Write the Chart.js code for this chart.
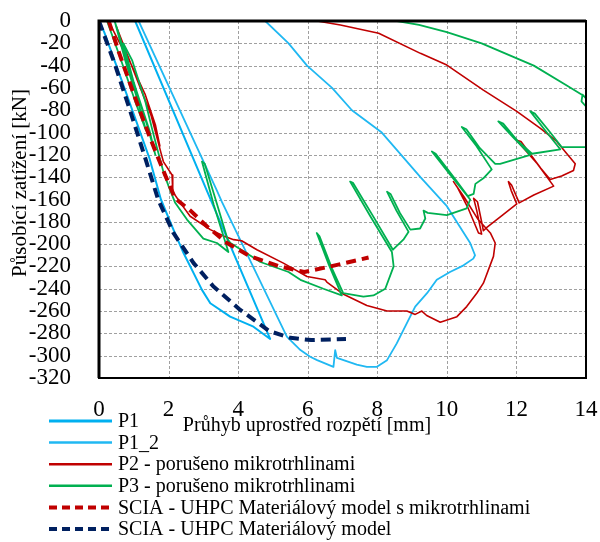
<!DOCTYPE html>
<html>
<head>
<meta charset="utf-8">
<script src="https://cdn.jsdelivr.net/npm/chart.js@4.4.1/dist/chart.umd.min.js"></script>
<style>
  body { margin: 0; background: #fff; }
  #wrap { width: 600px; height: 542px; }
</style>
</head>
<body>
<div id="wrap"><canvas id="beamChart"></canvas></div>
<script>
// DATA  [deflection mm, force kN]
const p1 = [[0,0],[0.15,-10],[0.5,-40],[0.97,-81],[1.45,-123],[1.78,-160],[2.14,-187],[2.43,-208],[2.72,-226],
  [2.96,-241],[3.2,-253],[3.77,-265],[4.44,-274],[4.92,-285],[3.1,-152],[1.04,0]];

const p1b = [[1.14,0],[3.39,-152],[3.53,-162],[5.4,-283],[5.79,-295],[6.07,-301],[6.27,-304],[6.74,-310],[6.79,-295],
  [6.84,-302],[7.41,-308],[7.7,-310],[7.99,-310],[8.28,-304],[8.56,-289],[8.75,-277],[9.09,-256],[9.43,-244],
  [9.71,-232],[10.09,-225],[10.48,-219],[10.76,-213],[10.81,-210],[10.67,-199],[10.0,-166],[9.24,-140],
  [8.13,-100],[7.27,-80],[6.7,-60],[5.98,-40],[5.45,-20],[4.78,0]];

const p2 = [[0.27,0],[0.6,-20],[0.85,-34],[1.33,-66],[1.62,-93],[1.75,-112],[1.5,-85],[1.0,-45],[0.5,-5],
  [1.0,-45],[1.5,-85],[1.78,-118],[1.85,-126],[2.1,-138],[2.12,-153],[2.34,-163],[2.62,-175],[3.2,-187],
  [3.6,-193],[3.87,-196],[4.1,-197],[4.54,-205],[5.3,-217],[5.98,-229],[6.5,-232],[6.55,-234],[7.03,-245],
  [7.7,-255],[8.28,-260],[8.85,-260],[9.09,-263],[9.28,-260],[9.42,-264],[9.81,-270],[10.29,-265],
  [10.57,-256],[10.86,-244],[11.05,-235],[11.34,-211],[11.39,-199],[11.25,-190],[10.9,-178],[10.5,-158],
  [10.19,-144],[10.3,-149],[10.6,-167],[10.91,-190],[11.0,-191],[10.86,-170],[10.77,-159],[10.88,-162],
  [11.0,-180],[11.05,-188],[11.15,-185],[11.6,-174],[12.01,-164],[11.85,-152],[11.77,-144],[11.86,-147],
  [12.08,-163],[12.5,-156],[13.07,-148],[12.6,-128],[12.01,-107],[12.13,-108],[12.7,-132],[12.97,-142],
  [13.3,-139],[13.64,-134],[13.69,-128],[13.45,-119],[13.16,-108],[12.68,-96],[12.01,-81],[11.05,-62],
  [10,-39.5],[9.24,-29],[8.04,-11],[6.94,-3.6],[6.27,0]];

const p3 = [[0.23,0],[0.61,-33],[1.04,-72],[1.35,-98],[1.1,-70],[0.75,-35],[0.45,0],[0.7,-25],[1.05,-60],
  [1.45,-98],[1.62,-120],[1.4,-95],[1.0,-55],[0.7,-20],[0.95,-35],[1.33,-72],[1.52,-96],[1.67,-114],
  [1.85,-135],[2.0,-148],[2.19,-163],[2.53,-178],[3.0,-195],[3.39,-199],[3.72,-207],
  [3.3,-165],[2.96,-126],[3.04,-128],[3.4,-165],[3.7,-196],
  [3.78,-199],[4.64,-216],[5.45,-225],[5.79,-232],[6.45,-240],[6.98,-246],
  [6.6,-218],[6.26,-190],[6.34,-193],[6.7,-222],[7.02,-244],
  [7.6,-247],[7.89,-246],[8.23,-240],[8.47,-220],[8.42,-207],
  [7.8,-175],[7.22,-144],[7.3,-145],[7.9,-176],[8.45,-205],
  [8.75,-196],[8.9,-189],
  [8.55,-170],[8.28,-153],[8.38,-155],[8.65,-172],[8.95,-187],
  [9.23,-186],[9.38,-177],[9.33,-170],[9.45,-172],[10.0,-174],[10.57,-168],[10.67,-160],
  [10.1,-138],[9.57,-117],[9.68,-119],[10.2,-140],[10.6,-157],
  [10.77,-155],[10.82,-146],[11.05,-141],[11.29,-133],
  [10.85,-112],[10.43,-95],[10.56,-97],[10.95,-114],[11.39,-128],
  [11.53,-128],[12.4,-120],
  [11.9,-104],[11.48,-90],[11.62,-92],[12.05,-108],[12.45,-119],
  [13.26,-115],
  [12.8,-97],[12.4,-81],[12.53,-83],[12.95,-99],[13.3,-113],
  [14.02,-113],[14.6,-110],[14.15,-82],[13.87,-72],[13.9,-66],[14.02,-70],[13.93,-67],[13.4,-57],
  [12.5,-40],[11.0,-20],[10.0,-10],[9.2,-3.5],[8.57,0]];

const sciaMicro = [[0.28,0],[0.56,-27],[1.04,-69],[1.47,-105],[1.9,-138],[2.19,-159],[2.63,-170],[3.1,-184],
  [3.68,-199],[4.35,-211],[5.2,-220],[5.9,-225],[6.65,-220],[7.75,-212]];

const scia = [[0,0],[0.47,-40],[0.9,-81],[1.33,-123],[1.7,-160],[2.14,-190],[2.72,-217],[3.29,-238],
  [4.06,-259],[4.9,-278],[5.5,-284],[6.1,-286],[7.1,-285]];

const xTicks = [0, 2, 4, 6, 8, 10, 12, 14];

const seriesNames = ["P1", "P1_2", "P2 - porušeno mikrotrhlinami", "P3 - porušeno mikrotrhlinami",
  "SCIA - UHPC Materiálový model s mikrotrhlinami", "SCIA - UHPC Materiálový model"];
const seriesData = [p1, p1b, p2, p3, sciaMicro, scia];
const seriesColors = ["#00B0F0", "#20B8F2", "#C00000", "#00B050", "#C00000", "#002060"];
const seriesWidths = [2, 1.8, 1.6, 1.8, 4, 4];
const seriesDash = [[], [], [], [], [10, 6], [10, 6]];

const xTitle = "Průhyb uprostřed rozpětí [mm]";
const yTitle = "Působící zatížení [kN]";
const FONT = "'Liberation Serif', 'Times New Roman', serif";

// frame, grid, titles and legend
const overlay = {
  id: "overlay",
  afterDatasetsDraw(chart) {
    const { ctx, chartArea: a, scales } = chart;
    // dashed grid, slipped underneath the lines already drawn
    ctx.save();
    ctx.globalCompositeOperation = "destination-over";
    ctx.strokeStyle = "#A0A0A0";
    ctx.lineWidth = 1;
    ctx.setLineDash([3, 2]);
    ctx.beginPath();
    xTicks.forEach(v => {
      const px = Math.round(scales.x.getPixelForValue(v)) + 0.5;
      ctx.moveTo(px, a.top);
      ctx.lineTo(px, a.bottom);
    });
    for (let v = scales.y.min; v <= scales.y.max; v += 20) {
      const py = Math.round(scales.y.getPixelForValue(v)) + 0.5;
      ctx.moveTo(a.left, py);
      ctx.lineTo(a.right, py);
    }
    ctx.stroke();
    ctx.restore();

    ctx.save();
    ctx.strokeStyle = "#000";
    ctx.lineWidth = 2;
    ctx.strokeRect(a.left, a.top, a.right - a.left, a.bottom - a.top);
    ctx.lineWidth = 3;
    ctx.beginPath();
    ctx.moveTo(a.right, a.top);
    ctx.lineTo(a.left, a.top);
    ctx.lineTo(a.left, a.bottom);
    ctx.stroke();
    ctx.restore();
  },
  afterDraw(chart) {
    const ctx = chart.ctx;
    ctx.save();
    ctx.fillStyle = "#000";
    ctx.font = "20px " + FONT;
    ctx.textAlign = "center";
    ctx.textBaseline = "middle";
    ctx.fillText(xTitle, 307, 426);

    ctx.font = "21px " + FONT;
    ctx.translate(20, 183);
    ctx.rotate(-Math.PI / 2);
    ctx.fillText(yTitle, 0, 0);
    ctx.restore();

    // legend, one entry per row
    ctx.save();
    ctx.font = "20px " + FONT;
    ctx.textAlign = "left";
    ctx.textBaseline = "middle";
    seriesNames.forEach((name, i) => {
      const y = 421 + i * 21.6;
      ctx.strokeStyle = seriesColors[i];
      ctx.lineWidth = i < 4 ? (i === 0 ? 3 : 2.5) : 4;
      ctx.setLineDash(seriesDash[i].length ? [8, 5] : []);
      ctx.beginPath();
      ctx.moveTo(49, y);
      ctx.lineTo(112, y);
      ctx.stroke();
      ctx.fillStyle = "#000";
      ctx.fillText(name, 118, y + 1);
    });
    ctx.restore();
  }
};

new Chart(document.getElementById("beamChart"), {
  type: "scatter",
  data: {
    datasets: seriesData.map((d, i) => ({
      label: seriesNames[i],
      data: d.map(p => ({ x: p[0], y: p[1] })),
      showLine: true,
      pointRadius: 0,
      borderColor: seriesColors[i],
      backgroundColor: seriesColors[i],
      borderWidth: seriesWidths[i],
      borderDash: seriesDash[i],
      borderJoinStyle: "round",
      tension: 0,
      order: 6 - i
    }))
  },
  options: {
    responsive: true,
    maintainAspectRatio: false,
    animation: false,
    layout: { padding: { left: 0, right: 14, top: 21, bottom: 0 } },
    plugins: {
      legend: { display: false },
      tooltip: { enabled: false }
    },
    scales: {
      x: {
        type: "linear",
        min: 0,
        max: 14,
        ticks: { stepSize: 2, autoSkip: false, maxRotation: 0, padding: 10, color: "#000", font: { family: FONT, size: 23 } },
        grid: { display: false },
        border: { display: false },
        afterFit(scale) {
          scale.height = 164;
          scale.paddingLeft = 0;
          scale.paddingRight = 0;
        }
      },
      y: {
        type: "linear",
        min: -320,
        max: 0,
        ticks: { stepSize: 20, autoSkip: false, padding: 20, color: "#000", font: { family: FONT, size: 23 } },
        grid: { display: false },
        border: { display: false },
        afterFit(scale) {
          scale.width = 99;
          scale.paddingTop = 0;
          scale.paddingBottom = 0;
        }
      }
    }
  },
  plugins: [overlay]
});
</script>
</body>
</html>
